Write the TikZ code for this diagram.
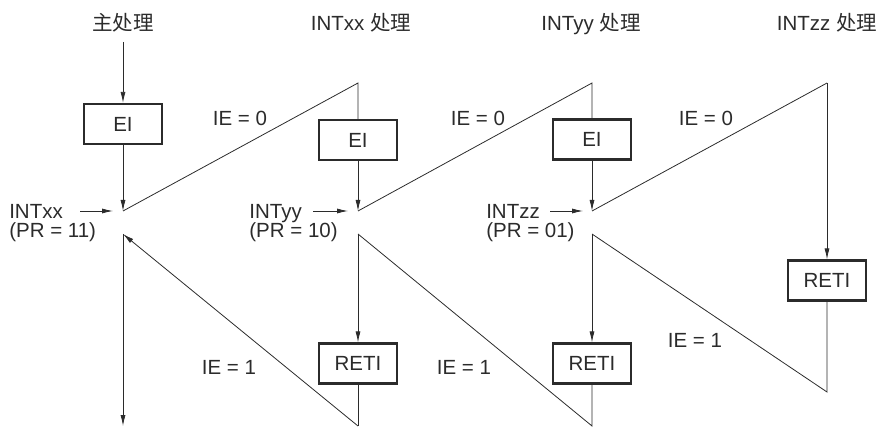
\documentclass[tikz,border=0pt]{standalone}
\usepackage{fontspec}
\setmainfont{Liberation Sans}
\newfontfamily\cjk{Noto Sans CJK SC}
\usepackage{tikz}
\usetikzlibrary{positioning,arrows.meta}
\definecolor{darkline}{HTML}{2B2B2B}

\begin{document}
\begin{tikzpicture}[x=1pt, y=-1pt,
  box/.style={
    draw=darkline, line width=2.2pt, minimum width=78pt, minimum height=40pt,
    inner sep=0pt, text=darkline, font=\fontsize{20.5}{24}\selectfont
  },
  lbl/.style={
    inner sep=0pt, text height=15pt, text depth=0pt, text=darkline,
    font=\fontsize{20.5}{24}\selectfont
  },
  arr/.style={-{Latex[length=11pt,width=5pt]}, line width=0.8pt, color=darkline},
  ln/.style={line width=0.8pt, color=darkline}
]
\useasboundingbox (0,0) rectangle (880,427);

% titles
\node[lbl] (tmain) at (123,23) {\cjk 主处理};
\node[lbl] (txx) at (361,23) {INTxx \cjk 处理};
\node[lbl] (tyy) at (591,23) {INTyy \cjk 处理};
\node[lbl] (tzz) at (827,23) {INTzz \cjk 处理};

% main flow
\coordinate (m0) at (123,42);
\node[box] (ei0) at (123,124) {EI};
\coordinate (i1) at (123,211);
\coordinate (r0) at (123,234);
\coordinate (mend) at (123,426);

% INTxx flow
\coordinate (t1) at (358,83);
\node[box] (ei1) at (358,140) {EI};
\coordinate (i2) at (358,211);
\coordinate (r1) at (358,234);
\node[box] (reti1) at (358,363.5) {RETI};
\coordinate (b1) at (358,426);

% INTyy flow
\coordinate (t2) at (592,83);
\node[box] (ei2) at (592,139.5) {EI};
\coordinate (i3) at (592,211);
\coordinate (r2) at (592,234);
\node[box] (reti2) at (592,363.5) {RETI};
\coordinate (b2) at (592,426);

% INTzz flow
\coordinate (t3) at (827,83);
\node[box] (reti3) at (827,280.5) {RETI};
\coordinate (b3) at (827,392);

% interrupt requests
\node[lbl, left=60pt of i1] (qxx) {INTxx};
\node[lbl, below=4pt of qxx.south west, anchor=north west] (prxx) {(PR = 11)};
\node[lbl, left=56pt of i2] (qyy) {INTyy};
\node[lbl, below=4pt of qyy.south west, anchor=north west] (pryy) {(PR = 10)};
\node[lbl, left=52pt of i3] (qzz) {INTzz};
\node[lbl, below=4pt of qzz.south west, anchor=north west] (przz) {(PR = 01)};

% IE labels
\node[lbl] (ie01) at (240,118) {IE = 0};
\node[lbl] (ie02) at (478,118) {IE = 0};
\node[lbl] (ie03) at (706,118) {IE = 0};
\node[lbl] (ie11) at (229,367) {IE = 1};
\node[lbl] (ie12) at (464,367) {IE = 1};
\node[lbl] (ie13) at (695,340) {IE = 1};

\draw[arr, shorten <=17pt, shorten >=10pt] (qxx) -- (i1);
\draw[arr, shorten <=11pt, shorten >=10pt] (qyy) -- (i2);
\draw[arr, shorten <=10pt, shorten >=9pt] (qzz) -- (i3);

\draw[arr] (m0) -- (ei0);
\draw[arr] (ei0) -- (i1);
\draw[ln] (i1) -- (t1) -- (ei1);
\draw[arr] (ei1) -- (i2);
\draw[ln] (i2) -- (t2) -- (ei2);
\draw[arr] (ei2) -- (i3);
\draw[ln] (i3) -- (t3);
\draw[arr] (t3) -- (reti3);
\draw[ln] (reti3) -- (b3) -- (r2);
\draw[arr] (r2) -- (reti2);
\draw[ln] (reti2) -- (b2) -- (r1);
\draw[arr] (r1) -- (reti1);
\draw[ln] (reti1) -- (b1);
\draw[arr] (b1) -- (r0);
\draw[arr] (r0) -- (mend);
\end{tikzpicture}
\end{document}
